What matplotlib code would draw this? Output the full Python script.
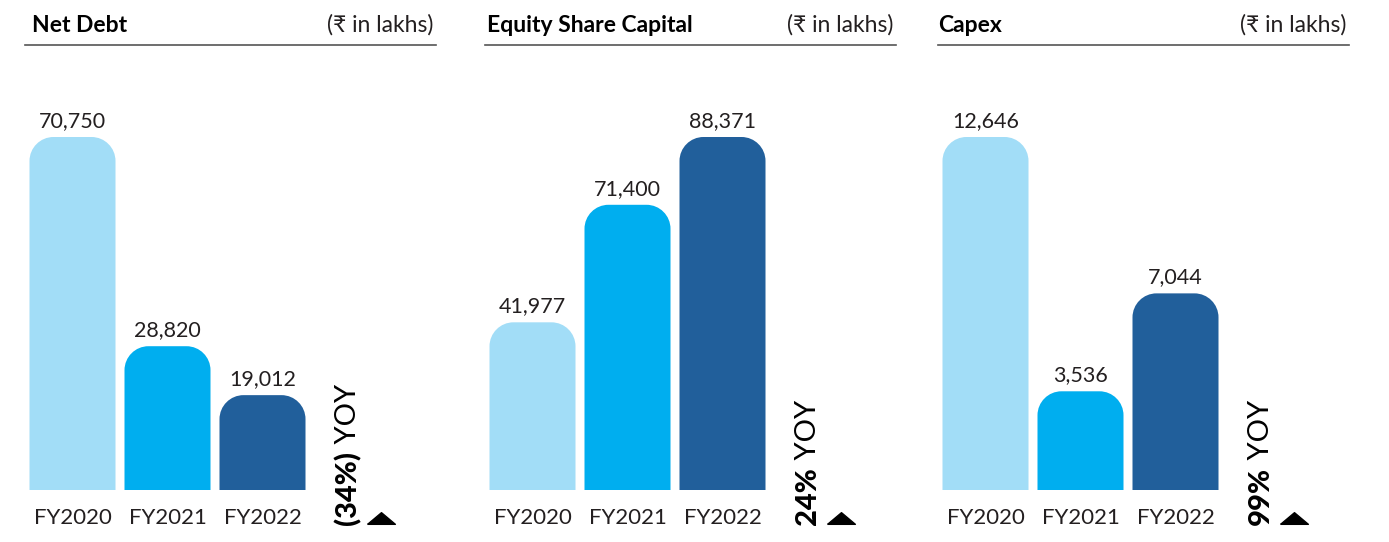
import numpy as np
import matplotlib
matplotlib.use("Agg")
import matplotlib.pyplot as plt
from matplotlib.path import Path
from matplotlib.patches import PathPatch

plt.rcParams['font.family'] = ['Lato', 'DejaVu Sans']

years = ["FY2020", "FY2021", "FY2022"]
net_debt = [70750, 28820, 19012]
equity_capital = [41977, 71400, 88371]
capex = [12646, 3536, 7044]

titles = ["Net Debt", "Equity Share Capital", "Capex"]
unit = "(\u20b9 in lakhs)"
yoy_change = ["(34%)", "24%", "99%"]

colors = ["#A2DDF7", "#00AEEF", "#215F9B"]
txt = "#231F20"

W, H = 1389, 542
fig = plt.figure(figsize=(W / 100, H / 100), dpi=100)

# panel geometry in pixels
lefts = [25, 485, 938]
title_indent = [7, 2, 0]
ax_w, bottom, top = 411, 490, 137
step = 95.0
bar_w = 86 / step
radius = 24  # px


def rounded_bar(ax, rect, rx, ry):
    x0, y0 = rect.get_x(), rect.get_y()
    w, h = rect.get_width(), rect.get_height()
    x1, y1 = x0 + w, y0 + h
    k = 0.5523
    verts = [(x0, y0), (x0, y1 - ry),
             (x0, y1 - ry + k * ry), (x0 + rx - k * rx, y1), (x0 + rx, y1),
             (x1 - rx, y1),
             (x1 - rx + k * rx, y1), (x1, y1 - ry + k * ry), (x1, y1 - ry),
             (x1, y0), (x0, y0)]
    codes = [Path.MOVETO, Path.LINETO,
             Path.CURVE4, Path.CURVE4, Path.CURVE4,
             Path.LINETO,
             Path.CURVE4, Path.CURVE4, Path.CURVE4,
             Path.LINETO, Path.CLOSEPOLY]
    patch = PathPatch(Path(verts, codes), facecolor=rect.get_facecolor(),
                      edgecolor="none")
    rect.set_visible(False)
    ax.add_patch(patch)


tri = Path([(-1, -0.42), (1, -0.42), (0, 0.42), (-1, -0.42)])

for i, vals in enumerate([net_debt, equity_capital, capex]):
    ax = fig.add_axes([lefts[i] / W, (H - bottom) / H, ax_w / W, (bottom - top) / H])
    x = np.arange(len(years))
    vmax = max(vals)
    bars = ax.bar(x, vals, width=bar_w, color=colors)
    ax.set_xlim(-47.5 / step, -47.5 / step + ax_w / step)
    ax.set_ylim(0, vmax)
    rx = radius / step
    ry = radius * vmax / (bottom - top)
    for r in bars:
        rounded_bar(ax, r, rx, ry)
    for xi, v in zip(x, vals):
        ax.annotate(f"{v:,}", (xi, v), xytext=(0, 7.3), textcoords="offset points",
                    ha="center", va="baseline", fontsize=15.5, color=txt)
    ax.set_xticks(x, years)
    ax.tick_params(axis="x", length=0, pad=13, labelsize=16, labelcolor=txt)
    ax.set_yticks([])
    for s in ax.spines.values():
        s.set_visible(False)

    # header
    yl = (bottom - 45) / (bottom - top)
    ax.plot([0, 1], [yl, yl], transform=ax.transAxes, color="#555555", lw=1.2,
            clip_on=False)
    yt = (bottom - 31.5) / (bottom - top)
    ax.text(title_indent[i] / ax_w, yt, titles[i], transform=ax.transAxes,
            fontsize=16.5, fontweight="bold", color="black", va="baseline", ha="left")
    ax.text(408 / ax_w, yt, unit, transform=ax.transAxes, fontsize=16.5,
            color=txt, va="baseline", ha="right")

    # yoy note
    t1 = ax.text(323 / ax_w, -(525 - bottom) / (bottom - top), yoy_change[i],
                 transform=ax.transAxes, rotation=90, ha="center", va="bottom",
                 fontsize=21, fontweight="black", color="black")
    ax.annotate(" YOY", xy=(0.5, 1), xycoords=t1, rotation=90, ha="center",
                va="bottom", fontsize=21, color="black")
    ax.plot([356 / ax_w], [-(518 - bottom) / (bottom - top)], transform=ax.transAxes,
            marker=tri, markersize=20, color="black", clip_on=False)

fig.savefig("out.png", dpi=100)
